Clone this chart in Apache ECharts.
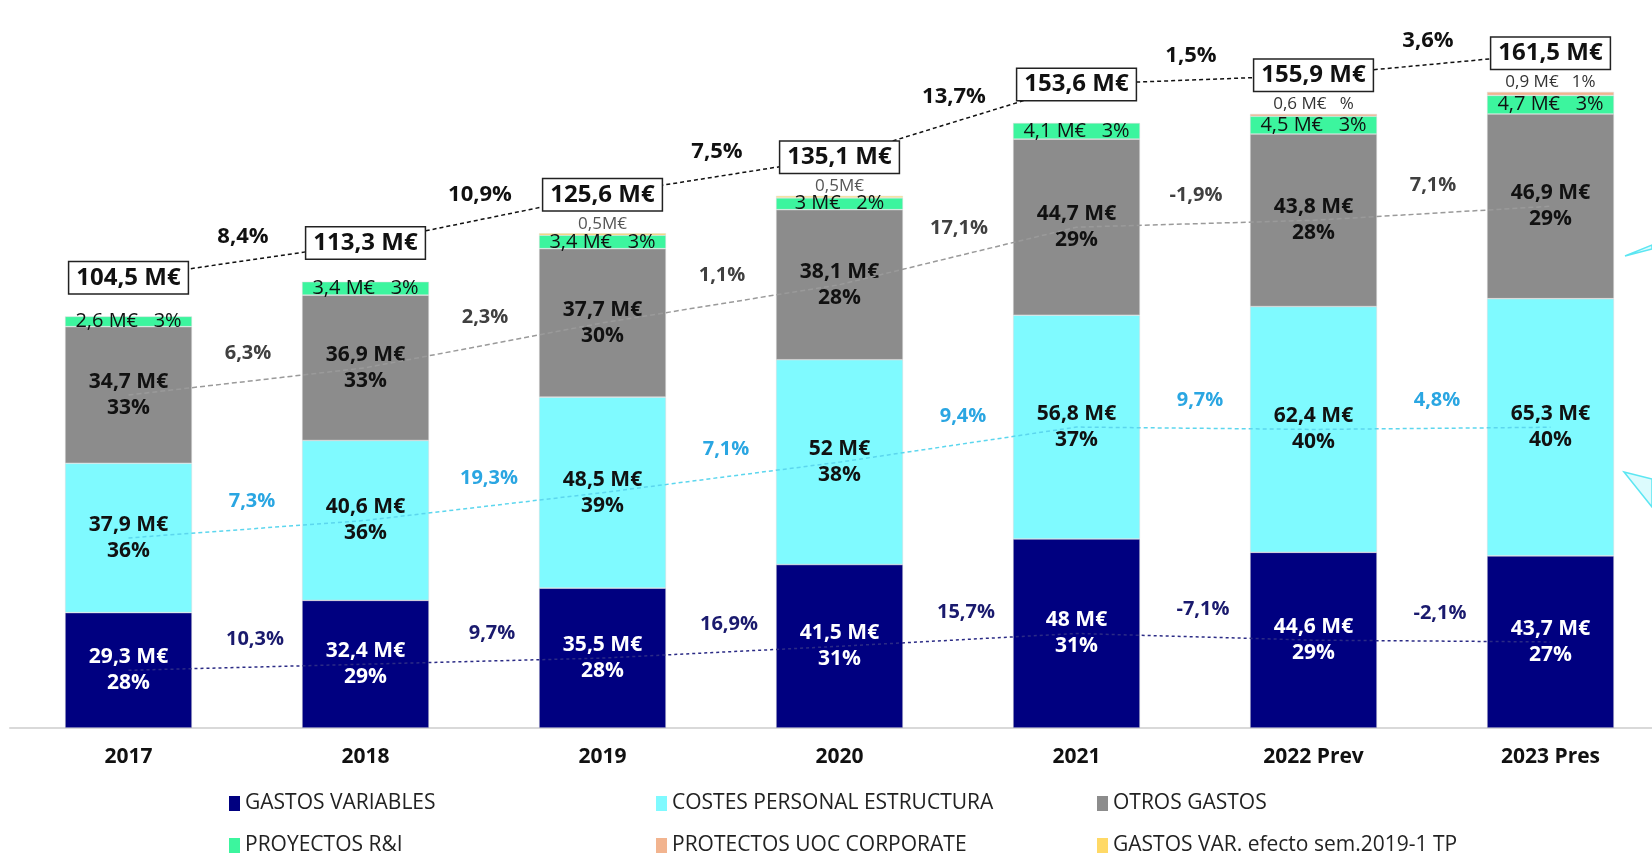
<!DOCTYPE html>
<html>
<head>
<meta charset="utf-8">
<title>Gastos 2017-2023</title>
<script src="https://cdn.jsdelivr.net/npm/echarts@6/dist/echarts.min.js"></script>
<style>
  html, body { margin: 0; padding: 0; background: #fff; }
  #chart { width: 1652px; height: 854px; }
</style>
</head>
<body>
<div id="chart"></div>
<script>
// categorias
var years = ['2017', '2018', '2019', '2020', '2021', '2022 Prev', '2023 Pres'];

// importes en M€
var gastosVariables = [29.3, 32.4, 35.5, 41.5, 48, 44.6, 43.7];
var costesPersonal = [37.9, 40.6, 48.5, 52, 56.8, 62.4, 65.3];
var otrosGastos = [34.7, 36.9, 37.7, 38.1, 44.7, 43.8, 46.9];
var proyectosRI = [2.6, 3.4, 3.4, 3, 4.1, 4.5, 4.7];
var uocCorporate = [null, null, null, null, null, 0.6, 0.9];
var gastosVarSem = [null, null, 0.5, 0.5, null, null, null];

// % sobre total
var pctVariables = [28, 29, 28, 31, 31, 29, 27];
var pctPersonal = [36, 36, 39, 38, 37, 40, 40];
var pctOtros = [33, 33, 30, 28, 29, 28, 29];
var pctProyectos = [3, 3, 3, 2, 3, 3, 3];
var pctCorporate = ['', '', '', '', '', '', '1']; // 2022 sin cifra en el original

// variacion interanual
var growTotal = ['8,4%', '10,9%', '7,5%', '13,7%', '1,5%', '3,6%'];
var growVariables = ['10,3%', '9,7%', '16,9%', '15,7%', '-7,1%', '-2,1%'];
var growPersonal = ['7,3%', '19,3%', '7,1%', '9,4%', '9,7%', '4,8%'];
var growOtros = ['6,3%', '2,3%', '1,1%', '17,1%', '-1,9%', '7,1%'];

var FONT = "'Open Sans', 'Noto Sans', sans-serif";
var COLORS = {
  variables: '#000080',
  personal: '#7ffaff',
  otros: '#8c8c8c',
  proyectos: '#3cf59e',
  corporate: '#f2b48f',
  sem: '#ffd966'
};

function fmt (v) {
  return String(Math.round(v * 10) / 10).replace('.', ',');
}

// totales y puntos medios de cada tramo (para las lineas de tendencia)
var totals = years.map(function (y, i) {
  return Math.round((gastosVariables[i] + costesPersonal[i] + otrosGastos[i] +
    proyectosRI[i] + (uocCorporate[i] || 0) + (gastosVarSem[i] || 0)) * 10) / 10;
});
var midVariables = gastosVariables.map(function (v) { return v / 2; });
var midPersonal = costesPersonal.map(function (v, i) { return gastosVariables[i] + v / 2; });
var midOtros = otrosGastos.map(function (v, i) { return gastosVariables[i] + costesPersonal[i] + v / 2; });

function bigLabel (pcts, color) {
  return {
    show: true,
    position: 'inside',
    color: color,
    fontFamily: FONT,
    fontWeight: 'bold',
    fontSize: 21,
    lineHeight: 26,
    formatter: function (p) { return fmt(p.value) + ' M€\n' + pcts[p.dataIndex] + '%'; }
  };
}

function bar (name, data, color, label) {
  return {
    name: name,
    type: 'bar',
    stack: 'total',
    data: data,
    barWidth: 127,
    itemStyle: { color: color, borderColor: 'rgba(220,220,220,0.8)', borderWidth: 0.6 },
    label: label
  };
}

function trend (data, color, yAxisIndex, width, dash, label) {
  return {
    type: 'line',
    yAxisIndex: yAxisIndex,
    data: data,
    symbol: 'circle',
    symbolSize: 1,
    silent: true,
    itemStyle: { color: 'transparent' },
    lineStyle: { color: color, width: width, type: dash },
    label: label || { show: false },
    z: 3
  };
}

// etiqueta de variacion entre dos barras, en el punto medio del tramo de la linea
function growth (points, texts, color, yAxisIndex, dx, dy, size) {
  return {
    type: 'custom',
    yAxisIndex: yAxisIndex,
    silent: true,
    z: 4,
    data: texts.map(function (t, i) { return [i, points[i], points[i + 1]]; }),
    renderItem: function (params, api) {
      var a = api.coord([api.value(0), api.value(1)]);
      var b = api.coord([api.value(0) + 1, api.value(2)]);
      return {
        type: 'text',
        x: (a[0] + b[0]) / 2 + dx,
        y: (a[1] + b[1]) / 2 + dy,
        style: {
          text: texts[params.dataIndex],
          fill: color,
          font: 'bold ' + size + 'px ' + FONT,
          align: 'center',
          verticalAlign: 'middle'
        }
      };
    }
  };
}

var chart = echarts.init(document.getElementById('chart'));

function legendCol (left, names) {
  return {
    orient: 'vertical',
    left: left,
    top: 793,
    height: 70,
    padding: 0,
    itemGap: 21,
    itemWidth: 11,
    itemHeight: 15,
    itemStyle: { borderWidth: 0 },
    icon: 'rect',
    selectedMode: false,
    data: names,
    textStyle: { color: '#222', fontFamily: FONT, fontSize: 21, lineHeight: 20 }
  };
}

chart.setOption({
  animation: false,
  backgroundColor: '#fff',
  grid: { left: 10, right: -17, top: 19, bottom: 126, outerBoundsMode: 'none' },
  legend: [
    legendCol(229, ['GASTOS VARIABLES', 'PROYECTOS R&I']),
    legendCol(656, ['COSTES PERSONAL ESTRUCTURA', 'PROTECTOS UOC CORPORATE']),
    legendCol(1097, ['OTROS GASTOS', 'GASTOS VAR. efecto sem.2019-1 TP'])
  ],
  xAxis: {
    type: 'category',
    data: years,
    axisLine: { lineStyle: { color: '#d9d9d9', width: 2 } },
    axisTick: { show: false },
    axisLabel: { color: '#111', fontFamily: FONT, fontWeight: 'bold', fontSize: 21, margin: 19 }
  },
  yAxis: [
    { type: 'value', min: 0, max: 180, show: false },
    // misma escala desplazada: la linea de totales va por encima de las barras
    { type: 'value', min: -9.8, max: 170.2, show: false }
  ],
  series: [
    bar('GASTOS VARIABLES', gastosVariables, COLORS.variables, bigLabel(pctVariables, '#fff')),
    bar('COSTES PERSONAL ESTRUCTURA', costesPersonal, COLORS.personal, bigLabel(pctPersonal, '#111')),
    bar('OTROS GASTOS', otrosGastos, COLORS.otros, bigLabel(pctOtros, '#111')),
    bar('PROYECTOS R&I', proyectosRI, COLORS.proyectos, {
      show: true,
      position: 'inside',
      color: '#111',
      fontFamily: FONT,
      fontSize: 20,
      formatter: function (p) { return fmt(p.value) + ' M€   ' + pctProyectos[p.dataIndex] + '%'; }
    }),
    bar('PROTECTOS UOC CORPORATE', uocCorporate, COLORS.corporate, {
      show: true,
      position: 'top',
      distance: 1,
      color: '#333',
      fontFamily: FONT,
      fontSize: 17,
      formatter: function (p) { return fmt(p.value) + ' M€   ' + pctCorporate[p.dataIndex] + '%'; }
    }),
    bar('GASTOS VAR. efecto sem.2019-1 TP', gastosVarSem, COLORS.sem, {
      show: true,
      position: 'top',
      distance: 1,
      color: '#555',
      fontFamily: FONT,
      fontSize: 17,
      formatter: function (p) { return fmt(p.value) + 'M€'; }
    }),
    trend(midVariables, '#2b2b85', 0, 1.5, [3, 3]),
    trend(midPersonal, '#5cd6ee', 0, 1.5, [4, 3]),
    trend(midOtros, '#9a9a9a', 0, 1.5, [5, 3]),
    trend(totals, '#111', 1, 1.5, [4, 3], {
      show: true,
      position: 'inside',
      color: '#111',
      fontFamily: FONT,
      fontWeight: 'bold',
      fontSize: 24,
      backgroundColor: '#fff',
      borderColor: '#222',
      borderWidth: 1.5,
      padding: [4, 7, 3, 7],
      formatter: function (p) { return fmt(p.value) + ' M€'; }
    }),
    growth(midVariables, growVariables, '#1a1a6e', 0, 8, -28, 20),
    growth(midPersonal, growPersonal, '#2aa6e2', 0, 5, -28, 20),
    growth(midOtros, growOtros, '#404040', 0, 1, -28, 20),
    growth(totals, growTotal, '#111', 1, -4, -24, 22)
  ],
  graphic: [
    {
      type: 'polygon',
      shape: { points: [[1625, 256], [1652, 245], [1652, 249]] },
      style: { fill: '#dcfbfd', stroke: '#5ce6f2', lineWidth: 1.5 }
    },
    {
      type: 'polygon',
      shape: { points: [[1624, 472], [1652, 479], [1652, 507]] },
      style: { fill: '#dcfbfd', stroke: '#5ce6f2', lineWidth: 1.5 }
    }
  ]
});
</script>
</body>
</html>
